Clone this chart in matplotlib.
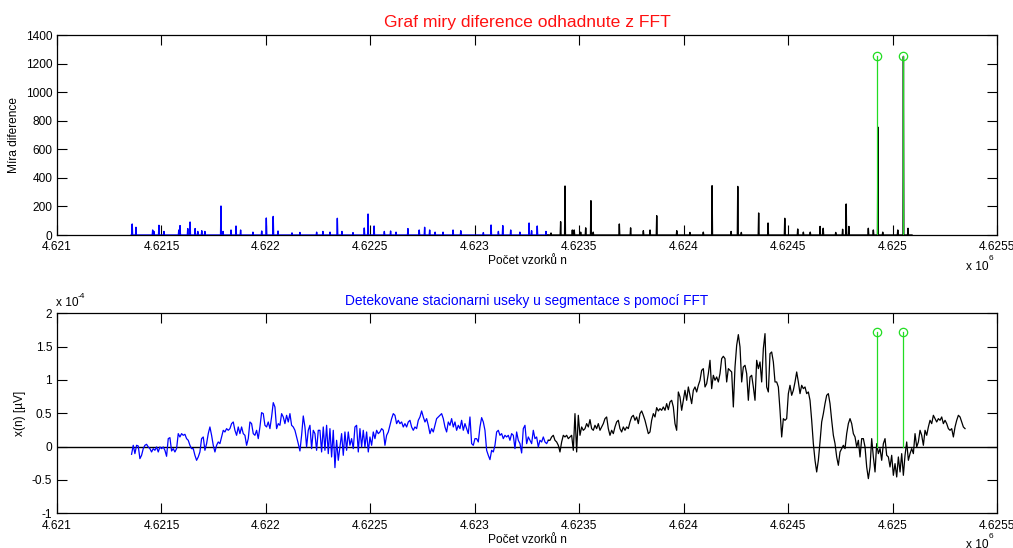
import numpy as np
import matplotlib
matplotlib.use("Agg")
import matplotlib.pyplot as plt

plt.rcParams['font.family'] = ['Liberation Sans', 'DejaVu Sans']

# ---------------- data ----------------
N0 = 4621000  # sample offset origin
# Top plot: difference-measure spikes (offset from N0, height)
blue_spike_n = [360, 378, 458, 464, 488, 512, 583, 589, 626, 637, 661, 674, 693, 708,
                785, 795, 833, 857, 879, 938, 980, 1002, 1035, 1058, 1125, 1163, 1243,
                1273, 1307, 1342, 1364, 1417, 1471, 1489, 1518, 1567, 1597, 1623, 1680,
                1734, 1760, 1784, 1810, 1848, 1896, 1933, 2041, 2078, 2113, 2134, 2172,
                2216, 2260, 2272, 2299, 2341]
blue_spike_h = [77, 54, 35, 25, 68, 25, 35, 66, 45, 91, 45, 25, 30, 25,
                203, 25, 35, 63, 35, 20, 28, 119, 130, 28, 15, 18, 20,
                25, 20, 117, 25, 17, 49, 147, 63, 25, 28, 20, 45,
                35, 54, 35, 20, 20, 35, 30, 17, 70, 25, 66, 35,
                20, 84, 30, 63, 25]
black_spike_n = [2365, 2411, 2432, 2467, 2476, 2507, 2531, 2556, 2567, 2692, 2746, 2807,
                 2839, 2871, 2967, 3030, 3094, 3136, 3227, 3259, 3276, 3359, 3404, 3484,
                 3546, 3573, 3606, 3653, 3668, 3728, 3761, 3778, 3791, 3884, 3908, 3930,
                 3953, 4025, 4052, 4074]
black_spike_h = [14, 93, 343, 35, 35, 20, 50, 240, 20, 77, 50, 30,
                 35, 135, 30, 18, 20, 345, 25, 340, 18, 154, 84, 117,
                 42, 20, 20, 60, 47, 18, 40, 217, 60, 47, 35, 755,
                 20, 35, 1250, 47]
top_start, top_split, top_end = 355, 2350, 4093

# Detected boundaries (green stems)
boundary_n = [3925, 4050]
boundary_top = [1250, 1250]
boundary_bottom = [1.72, 1.72]   # x 1e-4

# Bottom plot signal (x 1e-4 uV), uniformly sampled
sig_start, sig_step = 357, 7.98
sig_blue = [
 -0.115, 0.02, -0.105, 0.02, 0.01, -0.18, -0.13, -0.03, 0.02, 0.035, -0.005, -0.03, -0.08, -0.03,
 -0.055, -0.005, -0.08, -0.005, -0.03, -0.005, -0.055, -0.145, 0.12, 0.135, -0.065, -0.03, -0.08,
 -0.03, 0.195, 0.145, 0.195, 0.17, 0.185, 0.12, 0.095, 0.02, -0.03, -0.03, -0.13, -0.205, -0.155,
 -0.08, 0.12, 0.145, -0.055, 0.045, 0.195, 0.295, 0.17, 0.02, -0.08, 0.02, 0.07, 0.045, 0.145,
 0.245, 0.22, 0.27, 0.245, 0.27, 0.345, 0.37, 0.245, 0.17, 0.295, 0.195, 0.295, 0.195, 0.17,
 0.02, 0.12, 0.37, 0.345, 0.195, 0.17, 0.245, 0.12, 0.295, 0.51, 0.495, 0.32, 0.295, 0.37,
 0.27, 0.445, 0.66, 0.595, 0.27, 0.345, 0.32, 0.495, 0.445, 0.345, 0.47, 0.37, 0.495, 0.32,
 0.295, 0.245, 0.145, 0.045, -0.065, 0.17, 0.46, 0.295, -0.005, 0.245, 0.32, -0.03, 0.245,
 0.195, -0.055, 0.245, 0.245, -0.08, 0.295, -0.055, 0.32, -0.105, 0.27, -0.155, 0.245, -0.315,
 0.095, -0.205, -0.005,
 0.195, -0.13, 0.22, -0.055, 0.22, 0.02, 0.12, -0.03, 0.295, 0.32, -0.08, 0.27, -0.005, 0.245,
 -0.005, 0.22, -0.08, 0.145, 0.02, 0.22, 0.12, 0.245, 0.195, 0.22, 0.27, 0.245, 0.02, 0.17,
 0.22, 0.32, 0.42, 0.495, 0.47, 0.345, 0.395, 0.345, 0.37, 0.295, 0.345, 0.295, 0.37, 0.395,
 0.295, 0.245, 0.295, 0.27, 0.395, 0.445, 0.535, 0.445, 0.37, 0.42, 0.32, 0.195, 0.27, 0.22,
 0.32, 0.42, 0.445, 0.47, 0.495, 0.42, 0.295, 0.22, 0.37, 0.32, 0.42, 0.295, 0.37, 0.245,
 0.32, 0.27, 0.395, 0.245, 0.345, 0.27, 0.195, 0.445, 0.045, 0.02, 0.12, 0.12, 0.07, 0.295,
 0.435, 0.37, 0.245, -0.055, -0.13, -0.195, -0.055, -0.08, 0.02, 0.22, 0.245, 0.17, 0.195,
 0.12, 0.17, 0.145, 0.17, 0.095, 0.195, 0.17, -0.03, 0.22, 0.095, 0.045, -0.095, 0.27, 0.32,
 0.045, 0.145, 0.095, 0.045, 0.245, 0.12, 0.145, -0.005, 0.095, 0.07, 0.145, 0.07, 0.045, 0.095]
sig_black = [
 0.095, 0.145, 0.17, 0.095, 0.07, 0.02, -0.08, 0.07, 0.17, 0.145, 0.17, 0.12, 0.145, 0.17,
 -0.055, 0.495, -0.08, 0.47, 0.17, 0.295, 0.245, 0.27, 0.345, 0.295, 0.405, 0.27, 0.245, 0.32,
 0.27, 0.345, 0.245, 0.295, 0.345, 0.42, 0.445, 0.27, 0.17, 0.245, 0.195, 0.295, 0.37, 0.395,
 0.27, 0.22, 0.295, 0.245, 0.295, 0.27, 0.37, 0.445, 0.47, 0.395, 0.445, 0.345, 0.495, 0.535,
 0.47, 0.395, 0.295, 0.195, 0.22, 0.395, 0.495, 0.445, 0.585, 0.535, 0.57, 0.545, 0.595, 0.545,
 0.645, 0.555, 0.67, 0.695, 0.595, 0.345, 0.245, 0.82, 0.745, 0.545, 0.695, 0.845, 0.695, 0.895,
 0.77, 0.645, 0.845, 0.895, 0.82, 0.92, 0.995, 1.145, 1.17, 0.895, 0.945, 1.095, 1.295, 0.87,
 1.07, 0.995, 1.045, 0.97, 1.095, 1.32, 1.355, 1.32, 0.97, 1.17, 1.145, 1.12, 0.595, 1.195,
 1.52, 1.68, 1.495, 0.97, 1.195, 1.22, 1.095, 0.695, 1.045, 1.07, 0.895, 0.695,
 1.295, 1.17, 1.27, 0.97, 1.47, 1.695, 0.895, 0.82, 1.395, 1.42, 1.27, 0.97, 0.97, 0.895,
 0.545, 0.145, 0.42, 0.395, 0.42, 0.795, 0.92, 0.77, 0.845, 0.97, 1.12, 0.97, 0.795, 0.92,
 0.87, 0.895, 0.795, 0.82, 0.695, 0.395, 0.045, -0.205, -0.38, -0.205, 0.07, 0.37, 0.495,
 0.645, 0.77, 0.795, 0.645, 0.395, 0.17, 0.045, -0.155, -0.28, -0.08, -0.03, 0.02, -0.03,
 0.195, 0.345, 0.42, 0.345, 0.195, 0.145, -0.005, 0.095, -0.155, 0.12, 0.12, -0.005, -0.305,
 -0.48, -0.305, 0.12, -0.155, -0.38, 0.045, -0.105, -0.03, -0.205, 0.045, 0.12, -0.13, -0.155,
 -0.305, -0.13, -0.43, -0.255, -0.455, -0.155, -0.38, -0.105, -0.43, -0.13, 0.07, -0.205,
 -0.105, -0.03, -0.105, 0.195, -0.005, 0.07, 0.245, 0.17, 0.02, 0.245, 0.17, 0.295, 0.395,
 0.345, 0.47, 0.42, 0.37, 0.42, 0.395, 0.445, 0.345, 0.395, 0.345, 0.27, 0.245, 0.27, 0.145,
 0.295, 0.395, 0.47, 0.445, 0.37, 0.295, 0.27]

xticks = [4621000, 4621500, 4622000, 4622500, 4623000, 4623500, 4624000, 4624500, 4625000, 4625500]
xtick_labels = ['4.621', '4.6215', '4.622', '4.6225', '4.623', '4.6235', '4.624', '4.6245', '4.625', '4.6255']
top_yticks = [0, 200, 400, 600, 800, 1000, 1200, 1400]
bot_yticks = [-1, -0.5, 0, 0.5, 1, 1.5, 2]
bot_ytick_labels = ['-1', '-0.5', '0', '0.5', '1', '1.5', '2']

# ---------------- figure ----------------
W, H = 1013, 548
fig = plt.figure(figsize=(W / 100, H / 100), dpi=100)
GREEN = '#22dd22'
BLUE = '#0000ff'
FS = 8.6


def spike_line(ns, hs, start, end):
    xs, ys = [N0 + start], [0]
    for n, h in zip(ns, hs):
        xs += [N0 + n - 2, N0 + n, N0 + n + 2]
        ys += [0, h, 0]
    xs.append(N0 + end)
    ys.append(0)
    return xs, ys


def style_axes(ax):
    ax.set_xlim(xticks[0], xticks[-1])
    ax.set_xticks(xticks)
    ax.set_xticklabels(xtick_labels, fontsize=FS)
    ax.tick_params(direction='in', length=7, width=0.8, top=True, right=True,
                   labelsize=FS)
    ax.tick_params(axis='x', pad=4.5)
    ax.tick_params(axis='y', pad=3.5)
    for s in ax.spines.values():
        s.set_linewidth(0.9)


# Top axes
ax1 = fig.add_axes([57 / W, 1 - 235 / H, 940 / W, 200 / H])
bx, by = spike_line(blue_spike_n, blue_spike_h, top_start, top_split)
kx, ky = spike_line(black_spike_n, black_spike_h, top_split, top_end)
ax1.plot(bx, by, color=BLUE, lw=1.0)
ax1.plot(kx, ky, color='black', lw=1.0)
for n, h in zip(boundary_n, boundary_top):
    ax1.plot([N0 + n, N0 + n], [0, h], color=GREEN, lw=0.9)
    ax1.plot([N0 + n], [h], 'o', mfc='none', mec=GREEN, ms=6, mew=0.9)
ax1.set_ylim(0, 1400)
ax1.set_yticks(top_yticks)
ax1.set_yticklabels([str(v) for v in top_yticks])
style_axes(ax1)
ax1.set_title('Graf miry diference odhadnute z FFT', color='#ff1010', fontsize=12.6, pad=6)
ax1.set_xlabel('Počet vzorků n', fontsize=FS, labelpad=1.5)
ax1.set_ylabel('Míra diference', fontsize=FS, labelpad=4)

# Bottom axes
ax2 = fig.add_axes([57 / W, 1 - 513.3 / H, 940 / W, 200 / H])
ax2.axhline(0, color='black', lw=1.0)
xb = N0 + sig_start + sig_step * np.arange(len(sig_blue))
xk = N0 + sig_start + sig_step * np.arange(len(sig_blue) - 1, len(sig_blue) + len(sig_black))
ax2.plot(xb, sig_blue, color=BLUE, lw=0.9)
ax2.plot(xk, [sig_blue[-1]] + sig_black, color='black', lw=0.9)
for n, h in zip(boundary_n, boundary_bottom):
    ax2.plot([N0 + n, N0 + n], [0, h], color=GREEN, lw=0.9)
    ax2.plot([N0 + n], [h], 'o', mfc='none', mec=GREEN, ms=6, mew=0.9)
ax2.set_ylim(-1, 2)
ax2.set_yticks(bot_yticks)
ax2.set_yticklabels(bot_ytick_labels)
style_axes(ax2)
ax2.set_title('Detekovane stacionarni useky u segmentace s pomocí FFT', color=BLUE,
              fontsize=9.9, pad=6)
ax2.set_xlabel('Počet vzorků n', fontsize=FS, labelpad=1.5)
ax2.set_ylabel('x(n) [µV]', fontsize=FS, labelpad=4)

# exponent annotations
def px(x, y):
    return x / W, 1 - y / H

fig.text(*px(966, 267), 'x 10', fontsize=FS, va='center', ha='left')
fig.text(*px(989, 258), '6', fontsize=6, va='center', ha='left')
fig.text(*px(966, 545), 'x 10', fontsize=FS, va='center', ha='left')
fig.text(*px(989, 536), '6', fontsize=6, va='center', ha='left')
fig.text(*px(56, 303), 'x 10', fontsize=FS, va='center', ha='left')
fig.text(*px(78, 296), '-4', fontsize=6, va='center', ha='left')

fig.savefig('out.png', dpi=100)
